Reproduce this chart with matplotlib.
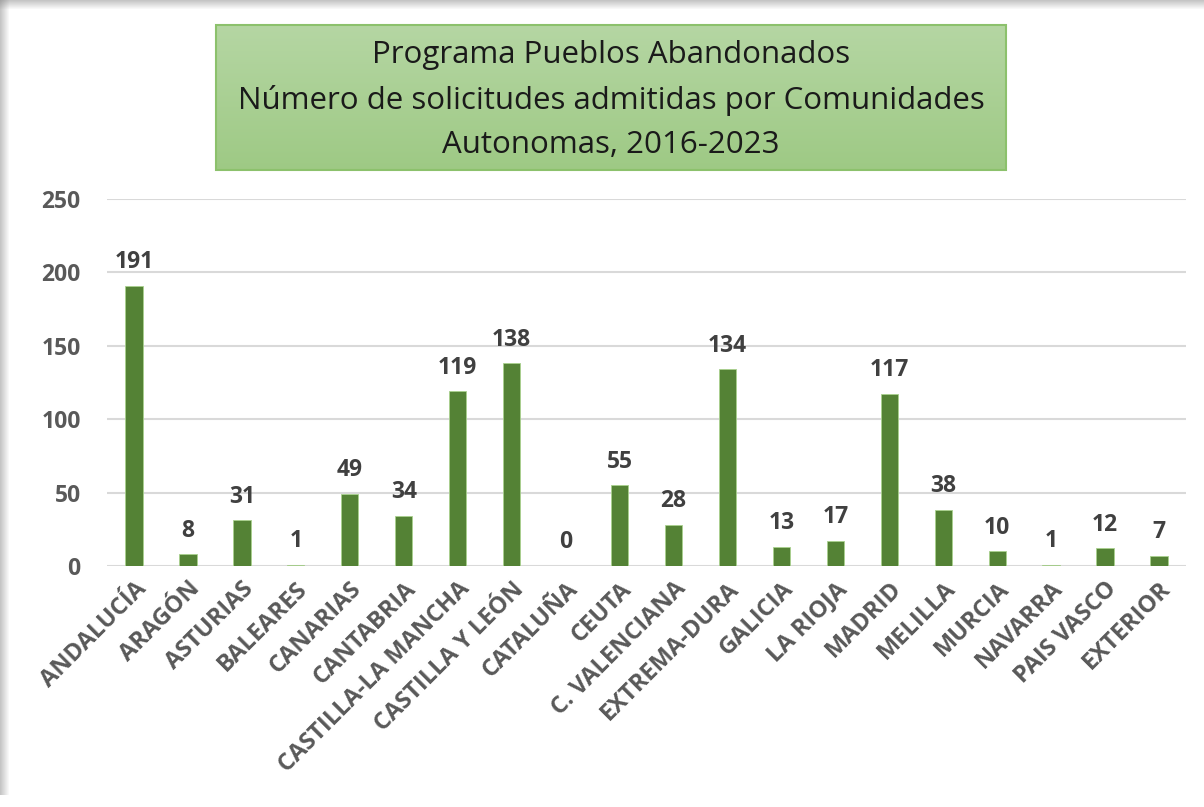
import numpy as np
import matplotlib.pyplot as plt
from matplotlib.patches import Rectangle

regiones = ["ANDALUCÍA", "ARAGÓN", "ASTURIAS", "BALEARES", "CANARIAS", "CANTABRIA",
            "CASTILLA-LA MANCHA", "CASTILLA Y LEÓN", "CATALUÑA", "CEUTA",
            "C. VALENCIANA", "EXTREMA-DURA", "GALICIA", "LA RIOJA", "MADRID",
            "MELILLA", "MURCIA", "NAVARRA", "PAIS VASCO", "EXTERIOR"]
solicitudes = [191, 8, 31, 1, 49, 34, 119, 138, 0, 55, 28, 134, 13, 17, 117, 38, 10, 1, 12, 7]
yticks = [0, 50, 100, 150, 200, 250]
titulo = ["Programa Pueblos Abandonados",
          "Número de solicitudes admitidas por Comunidades",
          "Autonomas, 2016-2023"]

plt.rcParams['font.family'] = ['Open Sans', 'DejaVu Sans']

W, H = 1204, 807
fig = plt.figure(figsize=(W / 100, H / 100), dpi=100)
fig.patch.set_facecolor('white')

# shadow strips on top and left edge
bg = fig.add_axes([0, 0, 1, 1], zorder=-5)
bg.set_xlim(0, W)
bg.set_ylim(H, 0)
bg.axis('off')
for i in range(9):
    a = 0.45 * (1 - i / 9)
    bg.add_patch(Rectangle((0, i), W, 1, color='#7f7f7f', alpha=a, lw=0))
    bg.add_patch(Rectangle((i, 0), 1, 795, color='#7f7f7f', alpha=a, lw=0))

# title box with gradient
grad = np.linspace(0, 1, 100).reshape(-1, 1)
top = np.array([0.71, 0.84, 0.64])
bot = np.array([0.62, 0.79, 0.52])
img = top + (bot - top) * grad[..., None]
bg.imshow(img, extent=[216, 1006, 170, 25], aspect='auto', zorder=1)
bg.add_patch(Rectangle((216, 25), 790, 145, fill=False, ec='#8cc16c', lw=1.5, zorder=2))
for yy, linea in zip([55, 100, 145], titulo):
    bg.text(611, yy, linea, ha='center', va='center', fontsize=22.5,
            color='#1a1a1a', zorder=3)

ax = fig.add_axes([107 / W, 1 - 566 / H, 1079 / W, 367 / H])
x = np.arange(len(regiones))
bars = ax.bar(x, solicitudes, width=0.32, color='#548235', edgecolor='#a9d18e',
              linewidth=0.6, zorder=3)
ax.set_xlim(-0.5, len(regiones) - 0.5)
ax.set_ylim(0, 250)
ax.set_yticks(yticks)
ax.yaxis.grid(True, color='#d9d9d9', lw=1.5, zorder=0)
ax.set_axisbelow(True)
for s in ax.spines.values():
    s.set_visible(False)
ax.tick_params(length=0)
ax.tick_params(axis='y', pad=19, labelsize=16.5, labelcolor='#595959')
for t in ax.get_yticklabels():
    t.set_fontweight('bold')

ax.set_xticks(x)
ax.set_xticklabels(regiones, rotation=45, ha='right', rotation_mode='anchor',
                   fontsize=17, fontweight='bold', color='#595959')
ax.tick_params(axis='x', pad=8)

for xi, v in zip(x, solicitudes):
    ax.text(xi, v + 8, str(v), ha='center', va='bottom', fontsize=16.5,
            fontweight='bold', color='#404040')

fig.savefig('out.png', dpi=100, facecolor='white')
